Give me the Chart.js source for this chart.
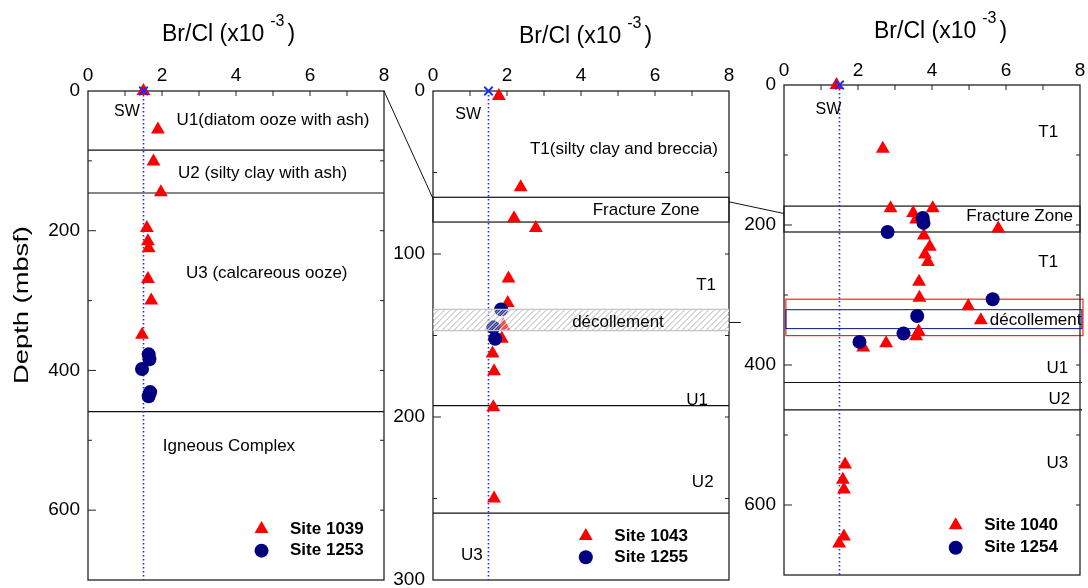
<!DOCTYPE html>
<html>
<head>
<meta charset="utf-8">
<title>Br/Cl profiles</title>
<script src="https://cdn.jsdelivr.net/npm/chart.js@4.4.1/dist/chart.umd.min.js"></script>
<style>
  body { margin: 0; background: #fff; }
  #wrap { position: relative; width: 1088px; height: 588px; }
  #wrap canvas { position: absolute; left: 0; top: 0; }
</style>
</head>
<body>
<div id="wrap">
  <canvas id="c1039" width="1088" height="588"></canvas>
  <canvas id="c1043" width="1088" height="588"></canvas>
  <canvas id="c1040" width="1088" height="588"></canvas>
</div>
<script>
const FONT = '"Liberation Sans", Arial, Helvetica, sans-serif';
Chart.defaults.font.family = FONT;
Chart.defaults.color = '#000';

const RED = '#ff0000';
const NAVY = '#000080';
const SW_BLUE = '#1030ff';

// seawater Br/Cl (x10^-3)
const swRatio = 1.5;
const xTicks = [0, 2, 4, 6, 8];

// Site 1039 (triangles) and 1253 (circles)
const site1039Ratio = [1.50, 1.89, 1.77, 1.97, 1.59, 1.62, 1.64, 1.62, 1.71, 1.46];
const site1039Depth = [0, 55, 101, 145, 196, 215, 225, 269, 300, 349];
const site1253Ratio = [1.64, 1.66, 1.46, 1.68, 1.64];
const site1253Depth = [377, 384, 398, 431, 437];
const site1039Units = [84.5, 146, 459];
const depthTicks700 = [0, 200, 400, 600];

// Site 1043 (triangles) and 1255 (circles)
const site1043Ratio = [1.78, 2.37, 2.19, 2.78, 2.04, 2.02, 1.90, 1.86, 1.61, 1.65, 1.63, 1.65];
const site1043Depth = [3, 59, 78, 84, 115, 130, 144, 152, 161, 172, 194, 250];
const site1255Ratio = [1.84, 1.63, 1.68];
const site1255Depth = [134, 145, 152];
const site1043Units = [193, 259];
const site1043Fracture = [65.2, 80.4];
const site1043Decollement = [134, 147];
const depthTicks300 = [0, 100, 200, 300];

// Site 1040 (triangles) and 1254 (circles)
const site1040Ratio = [1.42, 2.67, 2.88, 3.49, 4.02, 3.57, 5.79, 3.78, 3.94, 3.81, 3.89, 3.65,
                       3.66, 4.98, 5.32, 3.64, 3.57, 2.76, 2.14, 1.65, 1.59, 1.62, 1.62, 1.49];
const site1040Depth = [0, 91, 176, 183, 176, 192, 205, 215, 231, 242, 253, 281,
                       304, 316, 336, 352, 359, 369, 375, 542, 564, 578, 645, 655];
const site1254Ratio = [3.75, 3.77, 2.80, 5.64, 3.60, 3.23, 2.04];
const site1254Depth = [190, 197, 210, 306, 330, 355, 367];
const site1040Units = [425, 464];
const site1040Fracture = [173, 210];
const site1040DecolRed = [306, 358];
const site1040DecolBlue = [321, 348];

const pts = (xs, ys) => xs.map((v, i) => ({ x: v, y: ys[i] }));

// per-panel decorations, keyed by canvas id
const panels = {
  c1039: {
    yMax: 700, yTicks: depthTicks700, minorStep: 100,
    title: { dx: 74, cy: 35 },
    yTitle: { text: 'Depth (mbsf)', x: 22, y: 305 },
    unitLines: site1039Units, overhang: 0,
    boxes: [],
    labels: [
      { t: 'SW', x: 1.05, y: 30, size: 16 },
      { t: 'U1(diatom ooze with ash)', x: 5.0, y: 41.5 },
      { t: 'U2 (silty clay with ash)', x: 4.72, y: 118 },
      { t: 'U3 (calcareous ooze)', x: 4.83, y: 260.5 },
      { t: 'Igneous Complex', x: 3.81, y: 508 }
    ],
    legend: { mx: 4.69, tx: 5.46, y: [627, 658], names: ['Site 1039', 'Site 1253'] }
  },
  c1043: {
    yMax: 300, yTicks: depthTicks300, minorStep: 50,
    title: { dx: 86, cy: 37 },
    unitLines: site1043Units, overhang: 0,
    boxes: [{ top: site1043Fracture[0], bottom: site1043Fracture[1], x0: 0, x1: 8, color: '#111', width: 1.2 }],
    hatch: site1043Decollement,
    labels: [
      { t: 'SW', x: 0.95, y: 14.7, size: 16 },
      { t: 'T1(silty clay and breccia)', x: 5.16, y: 36 },
      { t: 'Fracture Zone', x: 5.76, y: 73 },
      { t: 'T1', x: 7.38, y: 119 },
      { t: 'décollement', x: 5.0, y: 141.7 },
      { t: 'U1', x: 7.14, y: 189.6 },
      { t: 'U2', x: 7.29, y: 240 },
      { t: 'U3', x: 1.05, y: 285 }
    ],
    legend: { mx: 4.13, tx: 4.9, y: [273, 286], names: ['Site 1043', 'Site 1255'] }
  },
  c1040: {
    yMax: 700, yTicks: depthTicks700, minorStep: 100,
    title: { dx: 90, cy: 32 },
    unitLines: site1040Units, overhang: 2,
    boxes: [
      { top: site1040Fracture[0], bottom: site1040Fracture[1], x0: 0, x1: 8, color: '#111', width: 1.2 },
      { top: site1040DecolRed[0], bottom: site1040DecolRed[1], x0: 0.05, x1: 8.08, color: '#ff2020', width: 1.2 },
      { top: site1040DecolBlue[0], bottom: site1040DecolBlue[1], x0: 0.05, x1: 8.05, color: '#101090', width: 1 }
    ],
    labels: [
      { t: 'SW', x: 1.2, y: 35, size: 16 },
      { t: 'T1', x: 7.14, y: 67 },
      { t: 'Fracture Zone', x: 6.37, y: 187 },
      { t: 'T1', x: 7.14, y: 254 },
      { t: 'décollement', x: 6.8, y: 336 },
      { t: 'U1', x: 7.39, y: 405 },
      { t: 'U2', x: 7.44, y: 449 },
      { t: 'U3', x: 7.39, y: 540 }
    ],
    legend: { mx: 4.64, tx: 5.41, y: [629, 661], names: ['Site 1040', 'Site 1254'] },
    // lines linking the zoomed intervals between panels
    connectors: [
      { from: ['c1039', 8, 0], to: ['c1043', 0, 66] },
      { from: ['c1043', 8, 68], to: ['c1040', 0, 183.6] },
      { from: ['c1043', 8, 142], to: ['c1043', 8.32, 142] }
    ]
  }
};

function seg(ctx, x1, y1, x2, y2) {
  ctx.beginPath(); ctx.moveTo(x1, y1); ctx.lineTo(x2, y2); ctx.stroke();
}

function drawTitle(ctx, left, cy) {
  ctx.fillStyle = '#000';
  ctx.textAlign = 'left';
  ctx.textBaseline = 'middle';
  ctx.font = '23px ' + FONT;
  const main = 'Br/Cl (x10';
  ctx.fillText(main, left, cy);
  const w = ctx.measureText(main).width;
  ctx.font = '16px ' + FONT;
  ctx.fillText('-3', left + w + 6, cy - 13);
  const w2 = ctx.measureText('-3').width;
  ctx.font = '23px ' + FONT;
  ctx.fillText(')', left + w + w2 + 9, cy);
}

const decor = {
  id: 'decor',
  beforeDatasetsDraw(chart) {
    const p = panels[chart.canvas.id];
    const { ctx, chartArea: a } = chart;
    const xs = chart.scales.x, ys = chart.scales.y;
    ctx.save();
    ctx.strokeStyle = '#111';
    ctx.lineWidth = 1.2;
    p.unitLines.forEach(d => {
      const py = ys.getPixelForValue(d);
      seg(ctx, a.left, py, a.right + p.overhang, py);
    });
    p.boxes.forEach(b => {
      ctx.strokeStyle = b.color;
      ctx.lineWidth = b.width;
      const x1 = xs.getPixelForValue(b.x0), x2 = xs.getPixelForValue(b.x1);
      const y1 = ys.getPixelForValue(b.top), y2 = ys.getPixelForValue(b.bottom);
      ctx.strokeRect(x1, y1, x2 - x1, y2 - y1);
    });
    // frame
    ctx.strokeStyle = '#222';
    ctx.lineWidth = 1.3;
    ctx.strokeRect(a.left, a.top, a.right - a.left, a.bottom - a.top);
    // inward tick marks
    ctx.lineWidth = 1;
    for (let v = 1; v < 8; v++) {
      const px = xs.getPixelForValue(v);
      seg(ctx, px, a.top, px, a.top + 5);
    }
    for (let d = p.minorStep; d < p.yMax; d += p.minorStep) {
      const py = ys.getPixelForValue(d);
      const major = p.yTicks.includes(d);
      seg(ctx, a.left, py, a.left + (major ? 8 : 4), py);
      seg(ctx, a.right, py, a.right - 4, py);
    }
    ctx.restore();
  },
  afterDatasetsDraw(chart) {
    const p = panels[chart.canvas.id];
    const { ctx, chartArea: a } = chart;
    const xs = chart.scales.x, ys = chart.scales.y;
    ctx.save();

    // hatched décollement band
    if (p.hatch) {
      const t = ys.getPixelForValue(p.hatch[0]), b = ys.getPixelForValue(p.hatch[1]);
      const h = b - t;
      ctx.save();
      ctx.beginPath();
      ctx.rect(a.left, t, a.right - a.left, h);
      ctx.clip();
      ctx.fillStyle = 'rgba(255,255,255,0.2)';
      ctx.fill();
      for (let s = a.left - h; s < a.right + 6; s += 6) {
        ctx.strokeStyle = 'rgba(170,170,170,0.9)';
        ctx.lineWidth = 1;
        seg(ctx, s, b, s + h, t);
        ctx.strokeStyle = 'rgba(255,255,255,0.8)';
        ctx.lineWidth = 1.2;
        seg(ctx, s + 3, b, s + 3 + h, t);
      }
      ctx.restore();
      ctx.strokeStyle = '#c4c4c4';
      ctx.lineWidth = 1.2;
      seg(ctx, a.left, t, a.right, t);
      seg(ctx, a.left, b, a.right, b);
    }

    // zone labels
    ctx.fillStyle = '#000';
    ctx.textAlign = 'center';
    ctx.textBaseline = 'middle';
    p.labels.forEach(l => {
      ctx.font = (l.size || 17) + 'px ' + FONT;
      ctx.fillText(l.t, xs.getPixelForValue(l.x), ys.getPixelForValue(l.y));
    });

    // legend
    const lg = p.legend;
    const mx = xs.getPixelForValue(lg.mx), tx = xs.getPixelForValue(lg.tx);
    const styles = [
      { pointStyle: 'triangle', radius: 8, borderWidth: 0, rotation: 0, color: RED },
      { pointStyle: 'circle', radius: 7, borderWidth: 0, rotation: 0, color: NAVY }
    ];
    styles.forEach((s, i) => {
      const py = ys.getPixelForValue(lg.y[i]);
      ctx.fillStyle = s.color;
      Chart.helpers.drawPoint(ctx, s, mx, py);
      ctx.fillStyle = '#000';
      ctx.font = 'bold 17px ' + FONT;
      ctx.textAlign = 'left';
      ctx.fillText(lg.names[i], tx, py);
    });

    drawTitle(ctx, a.left + p.title.dx, p.title.cy);

    // depth axis title, drawn a little elongated along its run
    if (p.yTitle) {
      ctx.save();
      ctx.translate(p.yTitle.x, p.yTitle.y);
      ctx.rotate(-Math.PI / 2);
      ctx.scale(1.3, 1);
      ctx.font = '21px ' + FONT;
      ctx.textAlign = 'center';
      ctx.textBaseline = 'middle';
      ctx.fillStyle = '#000';
      ctx.fillText(p.yTitle.text, 0, 0);
      ctx.restore();
    }

    if (p.connectors) {
      ctx.strokeStyle = '#111';
      ctx.lineWidth = 1;
      const px = (ref) => {
        const c = Chart.getChart(ref[0]);
        return [c.scales.x.getPixelForValue(ref[1]), c.scales.y.getPixelForValue(ref[2])];
      };
      p.connectors.forEach(cn => {
        const f = px(cn.from), t = px(cn.to);
        seg(ctx, f[0], f[1], t[0], t[1]);
      });
    }
    ctx.restore();
  }
};

function makePanel(id, triRatio, triDepth, dotRatio, dotDepth, box, yMax, yTicks) {
  const cfg = {
    type: 'scatter',
    data: {
      datasets: [
        { label: 'SW', data: [{ x: swRatio, y: 0 }], pointStyle: 'crossRot', pointRadius: 6,
          pointBorderColor: SW_BLUE, pointBorderWidth: 1.8, clip: false, order: 0 },
        { label: 'circles', data: pts(dotRatio, dotDepth), pointStyle: 'circle', pointRadius: 7,
          pointBackgroundColor: NAVY, pointBorderWidth: 0, clip: false, order: 1 },
        { label: 'triangles', data: pts(triRatio, triDepth), pointStyle: 'triangle', pointRadius: 8,
          pointBackgroundColor: RED, pointBorderWidth: 0, clip: false, order: 2 },
        { type: 'line', label: 'SW line', data: [{ x: swRatio, y: 0 }, { x: swRatio, y: yMax }],
          borderColor: SW_BLUE, borderWidth: 1.6, borderDash: [1.5, 2.5], pointRadius: 0, order: 3 }
      ]
    },
    options: {
      responsive: false,
      animation: false,
      events: [],
      layout: { padding: box.pad },
      plugins: { legend: { display: false }, tooltip: { enabled: false } },
      scales: {
        x: {
          type: 'linear', position: 'top', min: 0, max: 8,
          grid: { display: false, drawTicks: false },
          border: { display: false },
          ticks: { padding: box.xPad, font: { size: 19 }, maxRotation: 0, autoSkip: false },
          afterBuildTicks: s => { s.ticks = xTicks.map(v => ({ value: v })); },
          afterFit: s => { s.height = box.xh; s.paddingLeft = 0; s.paddingRight = 0; }
        },
        y: {
          type: 'linear', position: 'left', min: 0, max: yMax, reverse: true,
          grid: { display: false, drawTicks: false },
          border: { display: false },
          ticks: { padding: 8, font: { size: 19 }, autoSkip: false },
          afterBuildTicks: s => { s.ticks = yTicks.map(v => ({ value: v })); },
          afterFit: s => { s.width = box.yw; s.paddingTop = 0; s.paddingBottom = 0; }
        }
      }
    },
    plugins: [decor]
  };
  return new Chart(document.getElementById(id), cfg);
}

makePanel('c1039', site1039Ratio, site1039Depth, site1253Ratio, site1253Depth,
  { pad: { left: 0, right: 704, top: 0, bottom: 8 }, yw: 88, xh: 91, xPad: 4 },
  700, depthTicks700);
makePanel('c1043', site1043Ratio, site1043Depth, site1255Ratio, site1255Depth,
  { pad: { left: 390, right: 359, top: 0, bottom: 8 }, yw: 43, xh: 91, xPad: 4 },
  300, depthTicks300);
makePanel('c1040', site1040Ratio, site1040Depth, site1254Ratio, site1254Depth,
  { pad: { left: 740, right: 8, top: 0, bottom: 13 }, yw: 44, xh: 85, xPad: 3 },
  700, depthTicks700);
</script>
</body>
</html>
